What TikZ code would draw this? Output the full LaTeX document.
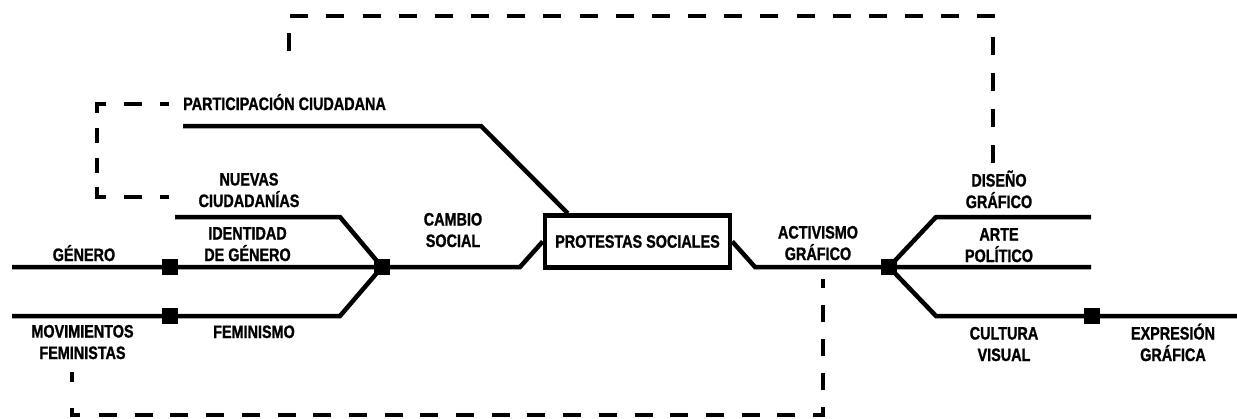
\documentclass[tikz,border=0pt]{standalone}
\usepackage{fontspec}
\setmainfont{Liberation Sans}[FakeStretch=0.8, FakeBold=1.2]
\begin{document}
\begin{tikzpicture}[x=1pt,y=-1pt,
  lbl/.style={font=\bfseries\fontsize{18}{21.5}\selectfont, align=center, inner sep=0pt, anchor=base},
  rail/.style={line width=4.5pt, line join=miter, line cap=butt},
  sqstop/.style={fill=black, inner sep=0pt, minimum size=16pt},
  hub/.style={draw, line width=4.5pt, minimum width=185pt, minimum height=52pt, inner sep=0pt,
    font=\bfseries\fontsize{18}{21.5}\selectfont},
  dsh/.style={line width=4.5pt, line join=miter, line cap=butt}]
\useasboundingbox (0,0) rectangle (1237,418);

% labels
\node[lbl, anchor=base west] (participacion) at (183,110) {PARTICIPACIÓN CIUDADANA};
\node[lbl] (nuevas) at (249,207) {NUEVAS\\CIUDADANÍAS};
\node[lbl] (identidad) at (247.5,261) {IDENTIDAD\\DE GÉNERO};
\node[lbl] (genero) at (84,261) {GÉNERO};
\node[lbl] (movimientos) at (82.5,359) {MOVIMIENTOS\\FEMINISTAS};
\node[lbl] (feminismo) at (254,338) {FEMINISMO};
\node[lbl] (cambio) at (453,247) {CAMBIO\\SOCIAL};
\node[hub] (protestas) at (637.5,241.5) {PROTESTAS SOCIALES};
\node[lbl] (activismo) at (818,260) {ACTIVISMO\\GRÁFICO};
\node[lbl] (diseno) at (999,208) {DISEÑO\\GRÁFICO};
\node[lbl] (arte) at (999,262) {ARTE\\POLÍTICO};
\node[lbl] (cultura) at (1004,361) {CULTURA\\VISUAL};
\node[lbl] (expresion) at (1173,361) {EXPRESIÓN\\GRÁFICA};

% stops
\node[sqstop] (sqA) at (170,267) {};
\node[sqstop] (sqB) at (170,316) {};
\node[sqstop] (hubL) at (382,267) {};
\node[sqstop] (hubR) at (889,267) {};
\node[sqstop] (sqC) at (1092,316) {};

% free ends and bends
\coordinate (pStart) at (183,126);
\coordinate (pBend) at (481,126);
\coordinate (nStart) at (175,217);
\coordinate (nBend) at (340,217);
\coordinate (gStart) at (12,267);
\coordinate (cBend) at (520,267);
\coordinate (mStart) at (12,316);
\coordinate (mBend) at (340,316);
\coordinate (aBend) at (755,267);
\coordinate (aEnd) at (1091,267);
\coordinate (dBend) at (936,217);
\coordinate (dEnd) at (1091,217);
\coordinate (vBend) at (936,316);
\coordinate (vEnd) at (1237,316);

% solid lines
\draw[rail] (pStart) -- (pBend) -- ([xshift=25pt]protestas.north west);
\draw[rail] (nStart) -- (nBend) -- (hubL.center);
\draw[rail] (gStart) -- (sqA.center) -- (hubL.center) -- (cBend) -- (protestas.west);
\draw[rail] (mStart) -- (sqB.center) -- (mBend) -- (hubL.center);
\draw[rail] (protestas.east) -- (aBend) -- (hubR.center) -- (aEnd);
\draw[rail] (hubR.center) -- (dBend) -- (dEnd);
\draw[rail] (hubR.center) -- (vBend) -- (sqC.center) -- (vEnd);

% dashed links
\coordinate (tA) at (289,51);
\coordinate (tB) at (289,16);
\coordinate (tC) at (993,16);
\coordinate (tD) at (993,163);
\draw[dsh, dash pattern=on 18pt off 18.17pt] (tA) -- (tB) -- (tC) -- (tD);

\coordinate (lA) at (169,104);
\coordinate (lB) at (97,104);
\coordinate (lC) at (97,197);
\coordinate (lD) at (169,197);
\draw[dsh, dash pattern=on 9pt off 18pt on 18pt off 18pt on 18pt off 15pt on 15pt off 15pt on 15pt off 14pt on 19pt off 18pt on 18pt off 18pt on 9pt off 40pt]
  (lA) -- (lB) -- (lC) -- (lD);

\coordinate (bA) at (72,372);
\coordinate (bB) at (72,415);
\coordinate (bC) at (823,415);
\coordinate (bD) at (823,279);
\draw[dsh, dash pattern=on 10pt off 26pt on 15pt off 19pt
  on 18pt off 17.7pt on 18pt off 17.7pt on 18pt off 17.7pt on 18pt off 17.7pt on 18pt off 17.7pt
  on 18pt off 17.7pt on 18pt off 17.7pt on 18pt off 17.7pt on 18pt off 17.7pt on 18pt off 17.7pt
  on 18pt off 17.7pt on 18pt off 17.7pt on 18pt off 17.7pt on 18pt off 17.7pt on 18pt off 17.7pt
  on 18pt off 17.7pt on 18pt off 17.7pt on 18pt off 17.7pt on 18pt off 17.7pt on 18pt off 17.7pt
  on 18pt off 17pt on 17pt off 17pt on 17pt off 17pt on 17pt off 17pt on 9pt off 50pt]
  (bA) -- (bB) -- (bC) -- (bD);
\end{tikzpicture}
\end{document}
